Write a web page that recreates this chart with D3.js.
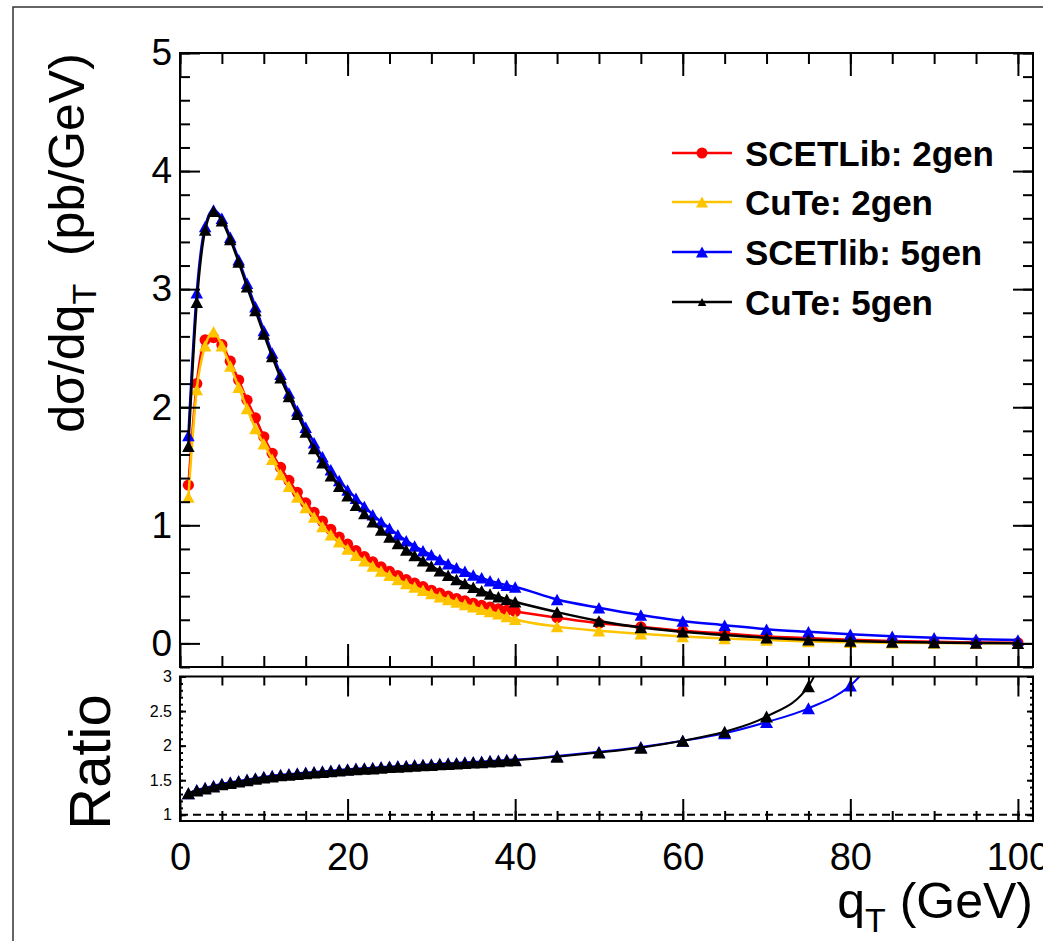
<!DOCTYPE html>
<html>
<head>
<meta charset="utf-8">
<script src="https://cdn.jsdelivr.net/npm/d3@7"></script>
<style>
body { margin: 0; background: #fff; }
text { font-family: "Liberation Sans", Arial, Helvetica, sans-serif; }
</style>
</head>
<body>
<div id="plot"></div>
<script>
// q_T points (GeV)
const qT = [1,2,3,4,5,6,7,8,9,10,11,12,13,14,15,16,17,18,19,20,21,22,23,24,25,26,27,28,29,30,
  31,32,33,34,35,36,37,38,39,40,45,50,55,60,65,70,75,80,85,90,95,100]

// dsigma/dqT (pb/GeV)
const scetlib2 = [1.34,2.20,2.57,2.59,2.53,2.39,2.23,2.06,1.91,1.75,1.61,1.49,1.38,1.28,1.19,1.11,1.035,0.965,0.90,0.84,
  0.785,0.735,0.69,0.648,0.61,0.575,0.54,0.51,0.48,0.45,0.425,0.40,0.38,0.36,0.34,0.322,0.307,0.293,0.28,0.27,
  0.218,0.17,0.14,0.106,0.084,0.059,0.045,0.031,0.02,0.013,0.008,0.005]
const cute2 = [1.24,2.15,2.52,2.64,2.52,2.35,2.17,1.99,1.82,1.69,1.56,1.43,1.33,1.24,1.15,1.07,0.99,0.92,0.86,0.80,
  0.746,0.70,0.655,0.614,0.577,0.54,0.507,0.478,0.45,0.423,0.396,0.372,0.35,0.33,0.31,0.29,0.27,0.25,0.228,0.205,
  0.142,0.106,0.081,0.059,0.042,0.028,0.017,0.01,0.006,0.003,0.002,0.001]
const scetlib5 = [1.76,2.97,3.53,3.67,3.60,3.44,3.25,3.05,2.85,2.65,2.46,2.28,2.12,1.97,1.83,1.70,1.58,1.47,1.38,1.30,
  1.23,1.16,1.09,1.03,0.975,0.92,0.87,0.825,0.785,0.75,0.71,0.675,0.64,0.61,0.58,0.555,0.53,0.51,0.492,0.478,
  0.372,0.302,0.24,0.19,0.154,0.12,0.098,0.078,0.061,0.047,0.036,0.028]
const cute5 = [1.67,2.89,3.50,3.66,3.58,3.42,3.23,3.02,2.82,2.62,2.43,2.25,2.09,1.94,1.79,1.65,1.53,1.42,1.33,1.25,
  1.17,1.10,1.03,0.96,0.90,0.845,0.79,0.745,0.70,0.655,0.615,0.578,0.542,0.508,0.475,0.446,0.419,0.395,0.373,0.352,
  0.265,0.19,0.134,0.098,0.07,0.047,0.031,0.02,0.012,0.007,0.004,0.002]

// ratio 5gen / 2gen (first points of qT)
const ratioScetlib = [1.31,1.36,1.39,1.42,1.45,1.47,1.49,1.51,1.53,1.55,1.565,1.58,1.59,1.60,1.61,1.62,1.63,1.64,1.65,1.66,
  1.67,1.675,1.68,1.69,1.70,1.705,1.71,1.72,1.725,1.73,1.74,1.745,1.75,1.76,1.765,1.77,1.78,1.785,1.795,1.80,
  1.85,1.91,1.98,2.07,2.18,2.34,2.54,2.87,3.6]
const ratioCute = [1.31,1.35,1.38,1.41,1.44,1.46,1.48,1.50,1.52,1.54,1.555,1.57,1.58,1.59,1.60,1.61,1.62,1.63,1.64,1.65,
  1.66,1.665,1.67,1.68,1.69,1.695,1.70,1.71,1.715,1.72,1.73,1.735,1.74,1.75,1.755,1.76,1.77,1.775,1.785,1.79,
  1.84,1.90,1.97,2.07,2.20,2.42,2.86,4.6]

const legendLabels = ['SCETLib: 2gen', 'CuTe: 2gen', 'SCETlib: 5gen', 'CuTe: 5gen']
const xTickLabels = [0, 20, 40, 60, 80, 100]
const yTickLabels = [0, 1, 2, 3, 4, 5]
const ratioTickLabels = [1, 1.5, 2, 2.5, 3]

const font = '"Liberation Sans", Arial, Helvetica, sans-serif'
const W = 1043, H = 941
const L = 180, R = 1033, T = 53, M = 667, RT = 676.5, B = 821

const svg = d3.select('#plot').append('svg')
  .attr('width', W).attr('height', H)

svg.append('rect').attr('x', 13).attr('y', 7).attr('width', W).attr('height', H)
  .attr('fill', 'none').attr('stroke', '#333').attr('stroke-width', 1.5)

const x = d3.scaleLinear().domain([0, 101.8]).range([L, R])
const y = d3.scaleLinear().domain([-0.2, 5]).range([M, T])
const yr = d3.scaleLinear().domain([0.91, 3]).range([B, RT])

const series = [
  {name: legendLabels[0], values: scetlib2, color: '#ff0000', marker: 'circle'},
  {name: legendLabels[1], values: cute2, color: '#ffc400', marker: 'tri'},
  {name: legendLabels[2], values: scetlib5, color: '#0000ff', marker: 'tri'},
  {name: legendLabels[3], values: cute5, color: '#000000', marker: 'tri'}
]
const ratios = [
  {values: ratioScetlib, color: '#0000ff'},
  {values: ratioCute, color: '#000000'}
]

// triangle centred on its box
const triPath = function(w, h) {
  return `M0,${-h/2}L${w/2},${h/2}L${-w/2},${h/2}Z`
}

const addMarkers = function(g, pts, sx, sy, s, size) {
  const sel = g.selectAll(null).data(pts).enter()
  if (s.marker === 'circle') {
    sel.append('circle')
      .attr('cx', d => sx(d[0])).attr('cy', d => sy(d[1]))
      .attr('r', 5.6).attr('fill', s.color)
  } else {
    sel.append('path')
      .attr('transform', d => `translate(${sx(d[0])},${sy(d[1])})`)
      .attr('d', triPath(size, size * 0.92))
      .attr('fill', s.color)
  }
}

// clip regions
const defs = svg.append('defs')
defs.append('clipPath').attr('id', 'clipTop').append('rect')
  .attr('x', L).attr('y', T).attr('width', R - L).attr('height', M - T)
defs.append('clipPath').attr('id', 'clipRat').append('rect')
  .attr('x', L).attr('y', RT).attr('width', R - L).attr('height', B - RT)

// ---- top panel curves
const gTop = svg.append('g').attr('clip-path', 'url(#clipTop)')
series.forEach(s => {
  const pts = qT.map((q, i) => [q, s.values[i]])
  gTop.append('path')
    .attr('fill', 'none').attr('stroke', s.color).attr('stroke-width', 2.5)
    .attr('d', d3.line().x(d => x(d[0])).y(d => y(d[1])).curve(d3.curveMonotoneX)(pts))
  addMarkers(gTop, pts, x, y, s, 12.5)
})

// ---- ratio panel
const gRat = svg.append('g').attr('clip-path', 'url(#clipRat)')
gRat.append('line')
  .attr('x1', L).attr('x2', R).attr('y1', yr(1)).attr('y2', yr(1))
  .attr('stroke', '#000').attr('stroke-width', 2).attr('stroke-dasharray', '8,5')
ratios.forEach(s => {
  const pts = s.values.map((v, i) => [qT[i], v])
  gRat.append('path')
    .attr('fill', 'none').attr('stroke', s.color).attr('stroke-width', 2)
    .attr('d', d3.line().x(d => x(d[0])).y(d => yr(d[1])).curve(d3.curveMonotoneX)(pts))
  addMarkers(gRat, pts.filter(d => d[1] <= 3), x, yr, {marker: 'tri', color: s.color}, 13)
})

// ---- frames
svg.append('rect').attr('x', L).attr('y', T).attr('width', R - L).attr('height', M - T)
  .attr('fill', 'none').attr('stroke', '#000').attr('stroke-width', 2)
svg.append('rect').attr('x', L).attr('y', RT).attr('width', R - L).attr('height', B - RT)
  .attr('fill', 'none').attr('stroke', '#000').attr('stroke-width', 2)

// ---- ticks (inward, all four sides)
const ticks = function(axisFn, scale, vals, len, tx, ty) {
  svg.append('g').attr('transform', `translate(${tx},${ty})`)
    .call(axisFn(scale).tickValues(vals).tickSize(-len).tickFormat(''))
    .call(g => g.select('.domain').remove())
    .call(g => g.selectAll('line').attr('stroke', '#000').attr('stroke-width', 2))
}
const xMinor = d3.range(0, 101, 5)
const xMajor = d3.range(0, 101, 20)
ticks(d3.axisBottom, x, xMinor, 11, 0, M)
ticks(d3.axisBottom, x, xMajor, 23, 0, M)
ticks(d3.axisTop, x, xMinor, 11, 0, T)
ticks(d3.axisTop, x, xMajor, 23, 0, T)
const yMinor = d3.range(-0.2, 5.01, 0.2).map(v => +v.toFixed(1))
ticks(d3.axisLeft, y, yMinor, 10, L, 0)
ticks(d3.axisLeft, y, yTickLabels, 20, L, 0)
ticks(d3.axisRight, y, yMinor, 10, R, 0)
ticks(d3.axisRight, y, yTickLabels, 20, R, 0)

ticks(d3.axisBottom, x, xMinor, 10, 0, B)
ticks(d3.axisBottom, x, xMajor, 22, 0, B)
ticks(d3.axisTop, x, xMinor, 9, 0, RT)
ticks(d3.axisTop, x, xMajor, 20, 0, RT)
const rMinor = d3.range(1, 3.01, 0.1).map(v => +v.toFixed(1))
ticks(d3.axisLeft, yr, rMinor, 3, L, 0)
ticks(d3.axisLeft, yr, ratioTickLabels, 6, L, 0)
ticks(d3.axisRight, yr, rMinor, 3, R, 0)
ticks(d3.axisRight, yr, ratioTickLabels, 6, R, 0)

// ---- tick labels
const labels = function(axis, tx, ty, size) {
  svg.append('g').attr('transform', `translate(${tx},${ty})`)
    .call(axis.tickFormat(d => String(d)))
    .call(g => g.select('.domain').remove())
    .call(g => g.selectAll('line').remove())
    .attr('font-family', font).attr('font-size', size)
    .call(g => g.selectAll('text').attr('fill', '#000'))
}
labels(d3.axisLeft(y).tickValues(yTickLabels).tickSize(0).tickPadding(8), L, 0, 37)
labels(d3.axisLeft(yr).tickValues(ratioTickLabels).tickSize(0).tickPadding(8), L, 0, 16)
labels(d3.axisBottom(x).tickValues(xTickLabels).tickSize(0).tickPadding(22), 0, B, 38)

// ---- axis titles
const yTitle = svg.append('text')
  .attr('transform', 'translate(84,243) rotate(-90)')
  .attr('text-anchor', 'middle').attr('font-size', 50)
yTitle.append('tspan').text('dσ/dq')
yTitle.append('tspan').attr('font-size', 34).attr('dy', 12).text('T')
yTitle.append('tspan').attr('dy', -12).text('\u00a0\u00a0(pb/GeV)')

svg.append('text')
  .attr('transform', 'translate(110,762) rotate(-90)')
  .attr('text-anchor', 'middle').attr('font-size', 58)
  .text('Ratio')

const xTitle = svg.append('text')
  .attr('x', R).attr('y', 918)
  .attr('text-anchor', 'end').attr('font-size', 50)
xTitle.append('tspan').text('q')
xTitle.append('tspan').attr('font-size', 34).attr('dy', 14).text('T')
xTitle.append('tspan').attr('dy', -14).text('\u00a0(GeV)')

// ---- legend
const legRows = [153, 202, 252, 302]
const legSize = [0, 12, 12, 8.5]
series.forEach((s, i) => {
  const g = svg.append('g')
  g.append('line').attr('x1', 672).attr('x2', 732)
    .attr('y1', legRows[i]).attr('y2', legRows[i])
    .attr('stroke', s.color).attr('stroke-width', 2.5)
  if (s.marker === 'circle') {
    g.append('circle').attr('cx', 702).attr('cy', legRows[i]).attr('r', 5.5).attr('fill', s.color)
  } else {
    g.append('path').attr('transform', `translate(702,${legRows[i]})`)
      .attr('d', triPath(legSize[i], legSize[i] * 0.92)).attr('fill', s.color)
  }
  g.append('text').attr('x', 745).attr('y', legRows[i]).attr('dy', '0.36em')
    .attr('font-size', 35).attr('font-weight', 'bold')
    .text(s.name)
})
</script>
</body>
</html>
